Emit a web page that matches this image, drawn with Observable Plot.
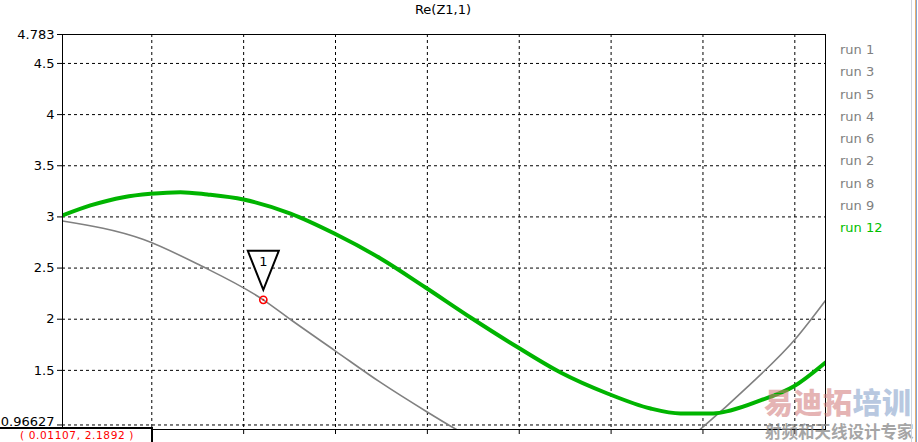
<!DOCTYPE html>
<html>
<head>
<meta charset="utf-8">
<script src="https://cdn.jsdelivr.net/npm/d3@7"></script>
<script src="https://cdn.jsdelivr.net/npm/@observablehq/plot@0.6"></script>
<style>
  html, body { margin: 0; padding: 0; background: #fff; overflow: hidden; }
  #wrap { position: relative; width: 918px; height: 442px; font-family: "DejaVu Sans", sans-serif; }
  #title { position: absolute; left: 0; top: 2px; width: 886px; text-align: center; font-size: 13px; line-height: 15px; color: #000; }
  .leg { position: absolute; left: 840px; font-size: 13px; line-height: 15px; white-space: nowrap; }
  #readout { position: absolute; left: -3px; top: 427px; width: 152px; height: 30px; border: 2px solid #000; background: #fff; }
  #readout span { position: absolute; left: 21px; top: 0px; font-size: 10.6px; line-height: 12px; color: #ff0000; white-space: nowrap; letter-spacing: 0.6px; }
  #wm1 { position: absolute; left: 764px; top: 381px; font-family: "Noto Sans CJK SC", sans-serif; font-weight: 900; font-size: 29px; line-height: 40px; white-space: nowrap; opacity: 0.55; letter-spacing: 0.5px; }
  #wm2 { position: absolute; left: 765px; top: 421px; font-family: "Noto Sans CJK SC", sans-serif; font-weight: 700; font-size: 16.5px; line-height: 20px; white-space: nowrap; color: #888; opacity: 0.75; }
  #edge { position: absolute; left: 911px; top: 0; width: 7px; height: 442px; border-left: 1px solid #d0d4dc; }
  #edge div { position: absolute; left: 3px; top: 0; width: 1px; height: 442px; background: #e8b070; }
  #edge div + div { left: 4px; background: #7fa2d2; }
</style>
</head>
<body>
<div id="wrap">
  <div id="chart"></div>
  <div id="title">Re(Z1,1)</div>
  <div id="legend"></div>
  <div id="readout"><span>( 0.01107, 2.1892 )</span></div>
  <div id="wm1"><span style="color:#d07878">易迪拓</span><span style="color:#7f9cc8">培训</span></div>
  <div id="wm2">射频和天线设计专家</div>
  <div id="edge"><div></div><div></div></div>
</div>
<script>
// ---- data ----
const runNames = ["run 1", "run 3", "run 5", "run 4", "run 6", "run 2", "run 8", "run 9", "run 12"];
const runColors = ["#808080", "#808080", "#808080", "#808080", "#808080", "#808080", "#808080", "#808080", "#00c000"];

// run 12 (green, thick)
const run12X = [0.00014, 0.00166, 0.00346, 0.00493, 0.00656, 0.00803, 0.00999, 0.01255, 0.01494, 0.01745, 0.01990, 0.02235, 0.02485, 0.02725, 0.02980, 0.03215, 0.03378, 0.03557, 0.03650, 0.03813, 0.03993, 0.04167];
const run12Y = [3.014, 3.112, 3.193, 3.226, 3.242, 3.219, 3.170, 3.033, 2.838, 2.594, 2.310, 2.017, 1.733, 1.479, 1.274, 1.127, 1.079, 1.079, 1.108, 1.206, 1.342, 1.577];

// gray run falling from the left
const grayAX = [0.00014, 0.00455, 0.00765, 0.01107, 0.01255, 0.01500, 0.01745, 0.02001, 0.02153, 0.02235];
const grayAY = [2.960, 2.779, 2.525, 2.1892, 1.997, 1.689, 1.382, 1.091, 0.927, 0.844];

// gray run rising at the right
const grayBX = [0.03432, 0.03499, 0.03741, 0.04004, 0.04167];
const grayBY = [0.844, 0.945, 1.336, 1.809, 2.183];

// marker 1
const markerX = [0.01107];
const markerY = [2.1892];
const markerLabel = ["1"];

// axes
const xDomain = [0.00014, 0.04167];
const yDomain = [0.922, 4.783];
const xGrid = [0.005, 0.010, 0.015, 0.020, 0.025, 0.030, 0.035, 0.040];
const yTicks = [0.96627, 1.5, 2, 2.5, 3, 3.5, 4, 4.5, 4.783];
const yTickLabels = ["0.96627", "1.5", "2", "2.5", "3", "3.5", "4", "4.5", "4.783"];

// ---- build tables ----
const run12 = run12X.map((x, i) => ({x, y: run12Y[i]}));
const grayA = grayAX.map((x, i) => ({x, y: grayAY[i]}));
const grayB = grayBX.map((x, i) => ({x, y: grayBY[i]}));
const markers = markerX.map((x, i) => ({x, y: markerY[i], label: markerLabel[i]}));
const labelOf = (d) => yTickLabels[yTicks.indexOf(d)];

const triDown = {
  draw(ctx) {
    ctx.moveTo(-15.5, -49);
    ctx.lineTo(15.5, -49);
    ctx.lineTo(0, -10);
    ctx.closePath();
  }
};

const chart = Plot.plot({
  width: 918,
  height: 442,
  marginLeft: 62,
  marginRight: 93,
  marginTop: 34,
  marginBottom: 13,
  x: {domain: xDomain, axis: null},
  y: {domain: yDomain, axis: null},
  style: {fontFamily: "DejaVu Sans", fontSize: "13px", color: "#000", background: "transparent", overflow: "visible"},
  marks: [
    Plot.ruleY(yTicks.slice(0, -1), {stroke: "#000", strokeDasharray: "3,3", strokeWidth: 1}),
    Plot.ruleX(xGrid, {stroke: "#000", strokeDasharray: "3,3", strokeWidth: 1}),
    Plot.ruleX(xGrid, {y1: yDomain[0], y2: yDomain[0], insetBottom: -5, stroke: "#000"}),
    // tick marks only
    Plot.axisY(yTicks, {anchor: "left", tickSize: 5, fill: "none", label: null, tickFormat: labelOf}),
    // labels (bottom one nudged so it stays clear of the readout box)
    Plot.axisY(yTicks.slice(1), {anchor: "left", tickSize: 0, tickPadding: 8, label: null, fontSize: 13, tickFormat: labelOf}),
    Plot.text(yTicks.slice(0, 1), {y: (d) => d, frameAnchor: "left", dx: -8, dy: -3, textAnchor: "end", fontSize: 13, fill: "#000", text: labelOf}),
    Plot.line(grayA, {x: "x", y: "y", stroke: "#808080", strokeWidth: 1.6, curve: "monotone-x", clip: true}),
    Plot.line(grayB, {x: "x", y: "y", stroke: "#808080", strokeWidth: 1.6, curve: "monotone-x", clip: true}),
    Plot.line(run12, {x: "x", y: "y", stroke: "#00b400", strokeWidth: 4, curve: "monotone-x", clip: true}),
    Plot.frame({stroke: "#000", strokeWidth: 1}),
    Plot.dot(markers, {x: "x", y: "y", symbol: triDown, fill: "white", stroke: "#000", strokeWidth: 2}),
    Plot.text(markers, {x: "x", y: "y", text: "label", dy: -38, fontSize: 13, fill: "#000"}),
    Plot.dot(markers, {x: "x", y: "y", r: 3.6, fill: "none", stroke: "#ff0000", strokeWidth: 1.6}),
    Plot.dot(markers, {x: "x", y: "y", r: 1, fill: "#ff0000", stroke: "none"})
  ]
});
document.getElementById("chart").appendChild(chart);

// legend
const legend = document.getElementById("legend");
runNames.forEach((name, i) => {
  const d = document.createElement("div");
  d.className = "leg";
  d.style.top = (42 + i * 22.27) + "px";
  d.style.color = runColors[i];
  d.textContent = name;
  legend.appendChild(d);
});
</script>
</body>
</html>
